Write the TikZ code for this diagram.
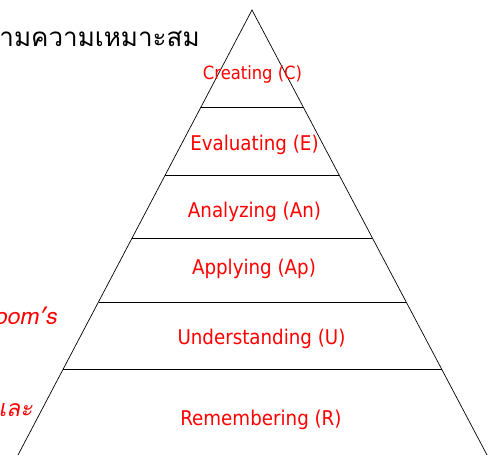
\documentclass[tikz,border=0pt]{standalone}
\usepackage{fontspec}
\setmainfont{DejaVu Sans Condensed}
\newfontfamily\thaifont[Script=Thai]{Loma}
\newfontfamily\thaiitfont[Script=Thai,FakeSlant=0.2]{Loma}
\begin{document}
\begin{tikzpicture}[x=1pt,y=-1pt,line width=0.7pt,
	level/.style={text=red,inner sep=0pt,font=\fontsize{20.3}{24}\selectfont},
	side/.style={text=red,inner sep=0pt,anchor=east,font=\thaiitfont\fontsize{23}{26}\selectfont}]
	\useasboundingbox (0,0) rectangle (489,455);
	%pyramid
	\draw (18,455) -- (252,10) -- (487,455);

	%level lines
	\draw (201,107) -- (303,107); %C/E
	\draw (165,175) -- (339,175); %E/An
	\draw (132,238) -- (372,238); %An/Ap
	\draw (98.5,302) -- (406,302); %Ap/U
	\draw (63,369) -- (441.5,369); %U/R

	%level labels
	\node[level,font=\fontsize{18.2}{22}\selectfont] (cre) at (252.5,74) {Creating (C)};
	\node[level] (eva) at (254.5,145) {Evaluating (E)};
	\node[level] (ana) at (254.5,212) {Analyzing (An)};
	\node[level] (app) at (254,269) {Applying (Ap)};
	\node[level] (und) at (261.5,339) {Understanding (U)};
	\node[level] (rem) at (261,420) {Remembering (R)};

	%side texts
	\node[inner sep=0pt,anchor=east,font=\thaifont\fontsize{26}{29}\selectfont] (fit) at (200,39) {ามความเหมาะสม};
	\node[side] (blm) at (57,316) {oom’s};
	\node[side] (lae) at (33,410) {และ};
\end{tikzpicture}
\end{document}
